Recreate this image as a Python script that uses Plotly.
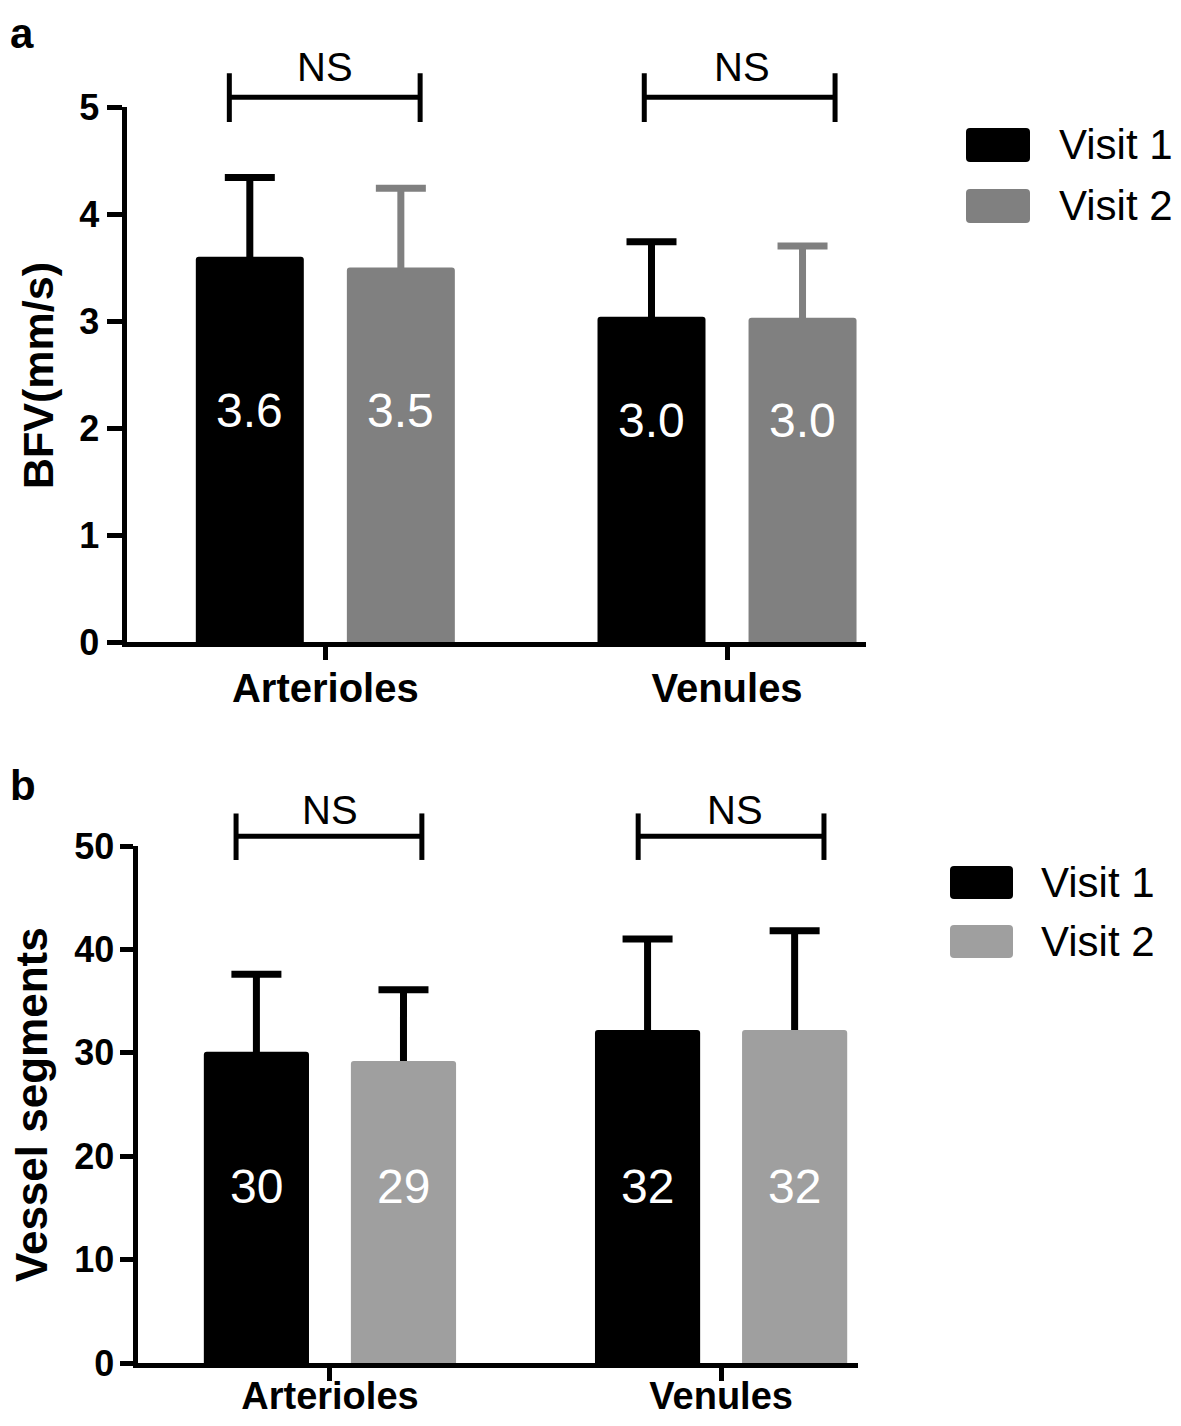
import plotly.graph_objects as go

# ---------------- data ----------------
categories = ["Arterioles", "Venules"]
series_names = ["Visit 1", "Visit 2"]

# panel a: blood flow velocity (mm/s)
bfv_visit1 = [3.6, 3.04]
bfv_visit2 = [3.5, 3.03]
bfv_sd_visit1 = [0.74, 0.70]
bfv_sd_visit2 = [0.74, 0.67]
bfv_text_visit1 = ["3.6", "3.0"]
bfv_text_visit2 = ["3.5", "3.0"]

# panel b: vessel segments
seg_visit1 = [30.1, 32.2]
seg_visit2 = [29.2, 32.2]
seg_sd_visit1 = [7.5, 8.8]
seg_sd_visit2 = [6.9, 9.6]
seg_text_visit1 = ["30", "32"]
seg_text_visit2 = ["29", "32"]

sig_labels = ["NS", "NS"]

# ---------------- style ----------------
PAGE_MARGIN = 8            # default body margin of the html page
W, H = 1181 - 2 * PAGE_MARGIN, 1426 - 2 * PAGE_MARGIN
FONT = "Liberation Sans"
BLACK = "#000000"
GRAY_A = "#808080"
GRAY_B = "#9f9f9f"
BARGAP = 0.248
BARGROUPGAP = 0.285
HALF = (1 - BARGAP) / 4  # offset of each bar centre from category centre


def px_x(p):
    return (p - PAGE_MARGIN) / W


def px_y(p):
    return 1 - (p - PAGE_MARGIN) / H


fig = go.Figure()


def add_panel(xa, ya, v1, v2, sd1, sd2, gray, err2_color):
    # error bars first (transparent bars) so the real bars hide the lower half
    for vals, sd, col, og in [(v1, sd1, BLACK, "1"), (v2, sd2, err2_color, "2")]:
        fig.add_trace(go.Bar(
            x=categories, y=vals, xaxis=xa, yaxis=ya, offsetgroup=og,
            marker=dict(color="rgba(0,0,0,0)", line=dict(width=0)),
            error_y=dict(type="data", array=sd, symmetric=True, color=col,
                         thickness=7, width=25),
            showlegend=False, hoverinfo="skip"))
    for vals, col, og, name in [(v1, BLACK, "1", series_names[0]),
                                (v2, gray, "2", series_names[1])]:
        fig.add_trace(go.Bar(
            x=categories, y=vals, xaxis=xa, yaxis=ya, offsetgroup=og, name=name,
            marker=dict(color=col, line=dict(width=0), cornerradius=3),
            showlegend=False))


add_panel("x", "y", bfv_visit1, bfv_visit2, bfv_sd_visit1, bfv_sd_visit2, GRAY_A, GRAY_A)
add_panel("x2", "y2", seg_visit1, seg_visit2, seg_sd_visit1, seg_sd_visit2, GRAY_B, BLACK)

axis_common = dict(showline=True, linewidth=5, linecolor=BLACK, ticks="outside",
                   tickwidth=5, tickcolor=BLACK, showgrid=False, zeroline=False,
                   fixedrange=True, automargin=False)

XTICK_FONT = dict(family=FONT, size=40, weight="bold", color=BLACK)
XTICK_FONT_B = dict(family=FONT, size=38, weight="bold", color=BLACK)
YTICK_FONT = dict(family=FONT, size=36, weight="bold", color=BLACK)

fig.update_layout(
    template="none",
    width=W, height=H,
    margin=dict(l=0, r=0, t=0, b=0, pad=0, autoexpand=False),
    paper_bgcolor="white", plot_bgcolor="white",
    barmode="group", bargap=BARGAP, bargroupgap=BARGROUPGAP,
    showlegend=False,
    font=dict(family=FONT, color=BLACK),
    xaxis=dict(domain=[px_x(126.5), px_x(866)], anchor="y", type="category",
               range=[-0.495, 1.346], ticklen=13, ticklabelstandoff=-6,
               tickfont=XTICK_FONT, **axis_common),
    yaxis=dict(domain=[px_y(642), px_y(107)], anchor="x", range=[0, 5], dtick=1,
               ticklen=15, ticklabelstandoff=0,
               tickfont=YTICK_FONT, **axis_common),
    xaxis2=dict(domain=[px_x(137.5), px_x(858)], anchor="y2", type="category",
                range=[-0.492, 1.35], ticklen=13, ticklabelstandoff=-18,
                tickfont=XTICK_FONT_B, **axis_common),
    yaxis2=dict(domain=[px_y(1363), px_y(846)], anchor="x2", range=[0, 50], dtick=10,
                ticklen=13, ticklabelstandoff=-2,
                tickfont=YTICK_FONT, **axis_common),
)

annotations = []
shapes = []

# value labels inside the bars
label_y_a = [2.16, 2.07]
label_y_b = [17.1, 17.1]
for xa, ya, t1, t2, ly in [("x", "y", bfv_text_visit1, bfv_text_visit2, label_y_a),
                           ("x2", "y2", seg_text_visit1, seg_text_visit2, label_y_b)]:
    for i in range(len(categories)):
        for txt, off in [(t1[i], -HALF), (t2[i], HALF)]:
            annotations.append(dict(x=i + off, y=ly[i], xref=xa, yref=ya, text=txt,
                                    showarrow=False, xanchor="center", yanchor="middle",
                                    font=dict(family=FONT, size=48, color="white")))

# significance brackets
brackets = [
    ("x", "y domain", [(-0.239, 0.236, 0.0), (0.794, 1.269, 1.037)], 1.018, 1.063, 0.972, 1.074),
    ("x2", "y2 domain", [(-0.240, 0.235, 0.0), (0.788, 1.263, 1.036)], 1.019, 1.063, 0.973, 1.069),
]
for xa, yref, spans, yh, ytop, ybot, ytext in brackets:
    for k, (x0, x1, xt) in enumerate(spans):
        line = dict(color=BLACK, width=5)
        shapes.append(dict(type="line", xref=xa, yref=yref, x0=x0, x1=x1, y0=yh, y1=yh, line=line))
        shapes.append(dict(type="line", xref=xa, yref=yref, x0=x0, x1=x0, y0=ybot, y1=ytop, line=line))
        shapes.append(dict(type="line", xref=xa, yref=yref, x0=x1, x1=x1, y0=ybot, y1=ytop, line=line))
        annotations.append(dict(x=xt, y=ytext, xref=xa, yref=yref, text=sig_labels[k],
                                showarrow=False, xanchor="center", yanchor="middle",
                                font=dict(family=FONT, size=40, color=BLACK)))


def rounded_rect(x0, x1, y0, y1, r=4):
    """SVG path (paper coords) of a rectangle given in page pixels, with rounded corners."""
    X0, X1 = px_x(x0), px_x(x1)
    Y0, Y1 = px_y(y1), px_y(y0)          # Y0 bottom, Y1 top
    rx, ry = r / W, r / H
    return (f"M{X0 + rx},{Y0} L{X1 - rx},{Y0} Q{X1},{Y0} {X1},{Y0 + ry} "
            f"L{X1},{Y1 - ry} Q{X1},{Y1} {X1 - rx},{Y1} L{X0 + rx},{Y1} "
            f"Q{X0},{Y1} {X0},{Y1 - ry} L{X0},{Y0 + ry} Q{X0},{Y0} {X0 + rx},{Y0} Z")


# legends (large swatches)
legends = [
    (966, 1030, [(128, 162), (189, 223)], 1057, [BLACK, GRAY_A]),
    (950, 1013, [(866, 899), (925, 958)], 1039, [BLACK, GRAY_B]),
]
for x0, x1, rows, tx, cols in legends:
    for (y0, y1), col, name in zip(rows, cols, series_names):
        shapes.append(dict(type="path", xref="paper", yref="paper",
                           path=rounded_rect(x0, x1, y0, y1),
                           fillcolor=col, line=dict(width=0)))
        annotations.append(dict(x=px_x(tx), y=px_y((y0 + y1) / 2), xref="paper", yref="paper",
                                text=name, showarrow=False, xanchor="left", yanchor="middle",
                                font=dict(family=FONT, size=42, color=BLACK)))

# y-axis titles
annotations.append(dict(x=px_x(38), y=px_y(376), xref="paper", yref="paper", text="BFV(mm/s)",
                        textangle=-90, showarrow=False, xanchor="center", yanchor="middle",
                        font=dict(family=FONT, size=43, weight="bold", color=BLACK)))
annotations.append(dict(x=px_x(31), y=px_y(1105), xref="paper", yref="paper", text="Vessel segments",
                        textangle=-90, showarrow=False, xanchor="center", yanchor="middle",
                        font=dict(family=FONT, size=44, weight="bold", color=BLACK)))

# panel letters
annotations.append(dict(x=px_x(8), y=1, xref="paper", yref="paper", text="a",
                        showarrow=False, xanchor="left", yanchor="top",
                        font=dict(family=FONT, size=42, weight="bold", color=BLACK)))
annotations.append(dict(x=px_x(8), y=px_y(760), xref="paper", yref="paper", text="b",
                        showarrow=False, xanchor="left", yanchor="top",
                        font=dict(family=FONT, size=42, weight="bold", color=BLACK)))

fig.update_layout(annotations=annotations, shapes=shapes)

fig.write_html("out.html")
